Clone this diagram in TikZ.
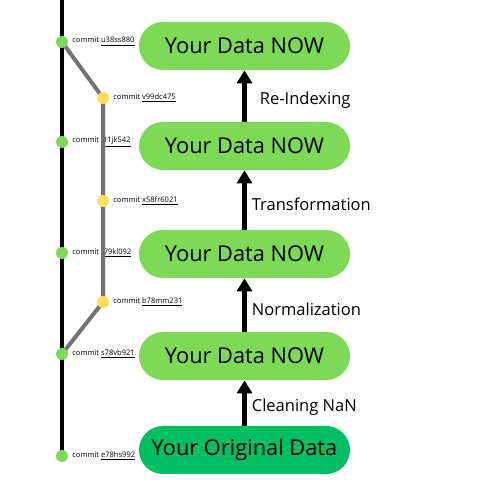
\documentclass[tikz,border=0pt]{standalone}
\usepackage{fontspec}
\setmainfont{Open Sans}
\usepackage{xcolor}
\usepackage{tikz}
\usetikzlibrary{arrows.meta,positioning}
\definecolor{dataGreen}{HTML}{7ED957}
\definecolor{origGreen}{HTML}{00BF63}
\definecolor{commitYellow}{HTML}{FFDE59}
\definecolor{branchGrey}{HTML}{737373}

\begin{document}
\begin{tikzpicture}[
    databox/.style={rounded corners=0.48cm, minimum width=4.22cm, minimum height=0.96cm,
      font=\fontsize{12.4}{14}\selectfont, text=black, inner sep=0pt},
    maindot/.style={circle, minimum size=0.24cm, inner sep=0pt},
    commitlbl/.style={font=\fontsize{4.3}{5}\selectfont, anchor=west, inner sep=0pt, xshift=0.2cm},
    steparrow/.style={line width=0.1cm, -{Triangle[width=0.3cm,length=0.26cm]}},
    steplbl/.style={font=\fontsize{9.4}{11}\selectfont, right=-0.02cm, yshift=-0.08cm}
  ]
  \useasboundingbox (0,0) rectangle (10,10);

  % Commit history
  \coordinate (top) at (1.24,10);
  \node[maindot] (u38) at (1.24,9.16) {};
  \node[maindot] (i11) at (1.24,7.16) {};
  \node[maindot] (l79) at (1.24,4.94) {};
  \node[maindot] (s78) at (1.24,2.92) {};
  \node[maindot] (e78) at (1.24,0.88) {};
  \node[maindot] (v99) at (2.06,8.04) {};
  \node[maindot] (x58) at (2.06,5.98) {};
  \node[maindot] (b78) at (2.06,3.96) {};

  \node[commitlbl] (u38l) at (u38.center) {commit \underline{u38ss880}};
  \node[commitlbl] (i11l) at (i11.center) {commit \underline{i11jk542}};
  \node[commitlbl] (l79l) at (l79.center) {commit \underline{t79kl092}};
  \node[commitlbl] (s78l) at (s78.center) {commit \underline{s78vb921}};
  \node[commitlbl] (e78l) at (e78.center) {commit \underline{e78hs992}};
  \node[commitlbl] (v99l) at (v99.center) {commit \underline{v99dc475}};
  \node[commitlbl] (x58l) at (x58.center) {commit \underline{x58fr6021}};
  \node[commitlbl] (b78l) at (b78.center) {commit \underline{b78mm231}};

  % Branch and trunk
  \draw[branchGrey, line width=0.08cm] (u38.center) -- (v99.center) -- (x58.center)
    -- (b78.center) -- (s78.center);
  \draw[black, line width=0.08cm] (top) -- (e78.center);
  \foreach \c in {u38,i11,l79,s78,e78}
    \fill[dataGreen] (\c) circle (0.12cm);
  \foreach \c in {v99,x58,b78}
    \fill[commitYellow] (\c) circle (0.12cm);

  % Data boxes
  \node[databox, fill=dataGreen] (now1) at (4.89,9.08) {Your Data NOW};
  \node[databox, fill=dataGreen] (now2) at (4.89,7.08) {Your Data NOW};
  \node[databox, fill=dataGreen] (now3) at (4.89,4.92) {Your Data NOW};
  \node[databox, fill=dataGreen] (now4) at (4.89,2.88) {Your Data NOW};
  \node[databox, fill=origGreen] (orig) at (4.89,1.00) {Your Original Data};

  % Steps
  \draw[steparrow] (orig) -- (now4) node[midway, steplbl] {Cleaning NaN};
  \draw[steparrow] (now4) -- (now3) node[midway, steplbl] {Normalization};
  \draw[steparrow] (now3) -- (now2) node[midway, steplbl] {Transformation};
  \draw[steparrow] (now2) -- (now1) node[midway, steplbl, xshift=0.16cm] {Re-Indexing};
\end{tikzpicture}
\end{document}
